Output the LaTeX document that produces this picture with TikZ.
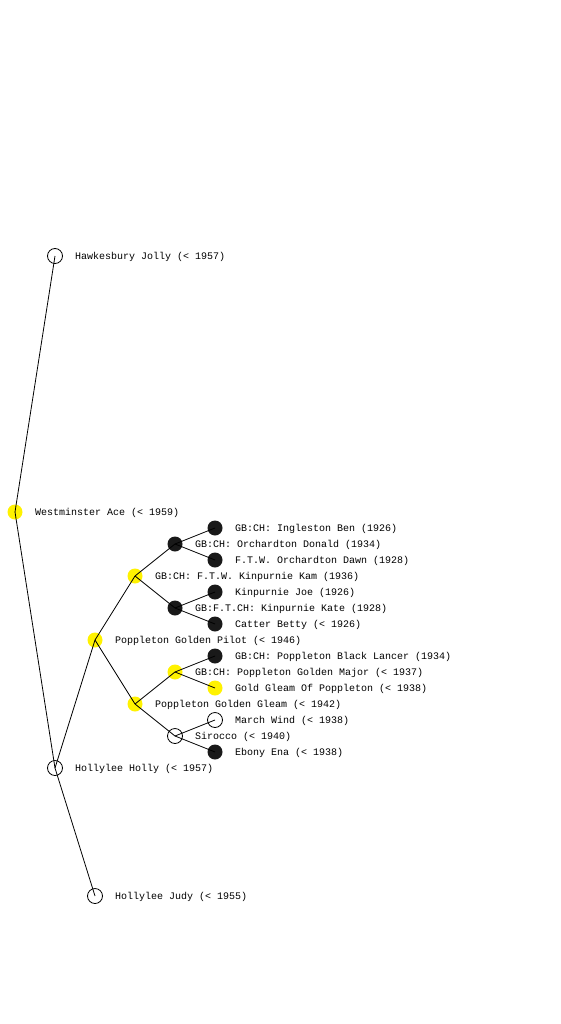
\documentclass[tikz,border=0pt]{standalone}
\usepackage{fontspec}
\setmonofont{Liberation Mono}
\begin{document}
\begin{tikzpicture}[x=1pt,y=-1pt,
  person/.style={circle,minimum size=15pt,inner sep=0pt},
  hollow/.style={person,draw=black,line width=0.8pt},
  gold/.style={person,fill=yellow},
  dark/.style={person,fill=black!90},
  lbl/.style={anchor=west,font=\ttfamily\fontsize{10}{10}\selectfont,inner sep=0pt,xshift=20pt,yshift=-1pt},
  edge/.style={line width=0.8pt}]
\useasboundingbox[fill=white] (0,0) rectangle (560,1024);
% coordinates
\coordinate (hj) at (55,256);
\coordinate (wa) at (15,512);
\coordinate (hh) at (55,768);
\coordinate (hju) at (95,896);
\coordinate (pgp) at (95,640);
\coordinate (kam) at (135,576);
\coordinate (od) at (175,544);
\coordinate (ib) at (215,528);
\coordinate (oda) at (215,560);
\coordinate (kk) at (175,608);
\coordinate (kj) at (215,592);
\coordinate (cb) at (215,624);
\coordinate (pgg) at (135,704);
\coordinate (pgm) at (175,672);
\coordinate (pbl) at (215,656);
\coordinate (ggp) at (215,688);
\coordinate (sir) at (175,736);
\coordinate (mw) at (215,720);
\coordinate (ee) at (215,752);
% filled nodes first, edges, then hollow outlines
\node[gold] (n-wa) at (wa) {};
\node[gold] (n-pgp) at (pgp) {};
\node[gold] (n-kam) at (kam) {};
\node[gold] (n-pgg) at (pgg) {};
\node[gold] (n-pgm) at (pgm) {};
\node[gold] (n-ggp) at (ggp) {};
\node[dark] (n-od) at (od) {};
\node[dark] (n-ib) at (ib) {};
\node[dark] (n-oda) at (oda) {};
\node[dark] (n-kk) at (kk) {};
\node[dark] (n-kj) at (kj) {};
\node[dark] (n-cb) at (cb) {};
\node[dark] (n-pbl) at (pbl) {};
\node[dark] (n-ee) at (ee) {};
\node[hollow] (n-hj) at (hj) {};
\node[hollow] (n-hh) at (hh) {};
\node[hollow] (n-hju) at (hju) {};
\node[hollow] (n-sir) at (sir) {};
\node[hollow] (n-mw) at (mw) {};
\foreach \a/\b in {wa/hj,wa/hh,hh/hju,hh/pgp,pgp/kam,pgp/pgg,kam/od,kam/kk,od/ib,od/oda,kk/kj,kk/cb,pgg/pgm,pgg/sir,pgm/pbl,pgm/ggp,sir/mw,sir/ee}
  \draw[edge] (n-\a.center) -- (n-\b.center);
% labels
\node[lbl] at (hj) {Hawkesbury Jolly (< 1957)};
\node[lbl] at (wa) {Westminster Ace (< 1959)};
\node[lbl] at (hh) {Hollylee Holly (< 1957)};
\node[lbl] at (hju) {Hollylee Judy (< 1955)};
\node[lbl] at (pgp) {Poppleton Golden Pilot (< 1946)};
\node[lbl] at (kam) {GB:CH: F.T.W. Kinpurnie Kam (1936)};
\node[lbl] at (od) {GB:CH: Orchardton Donald (1934)};
\node[lbl] at (ib) {GB:CH: Ingleston Ben (1926)};
\node[lbl] at (oda) {F.T.W. Orchardton Dawn (1928)};
\node[lbl] at (kk) {GB:F.T.CH: Kinpurnie Kate (1928)};
\node[lbl] at (kj) {Kinpurnie Joe (1926)};
\node[lbl] at (cb) {Catter Betty (< 1926)};
\node[lbl] at (pgg) {Poppleton Golden Gleam (< 1942)};
\node[lbl] at (pgm) {GB:CH: Poppleton Golden Major (< 1937)};
\node[lbl] at (pbl) {GB:CH: Poppleton Black Lancer (1934)};
\node[lbl] at (ggp) {Gold Gleam Of Poppleton (< 1938)};
\node[lbl] at (sir) {Sirocco (< 1940)};
\node[lbl] at (mw) {March Wind (< 1938)};
\node[lbl] at (ee) {Ebony Ena (< 1938)};
\end{tikzpicture}
\end{document}
